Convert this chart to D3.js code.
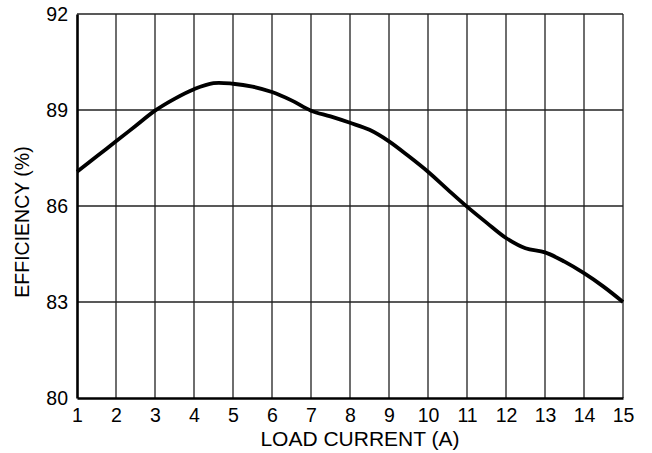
<!DOCTYPE html>
<html>
<head>
<meta charset="utf-8">
<script src="https://cdn.jsdelivr.net/npm/d3@7"></script>
<style>
  html, body { margin: 0; padding: 0; background: #fff; }
  svg { display: block; }
  text { font-family: "Liberation Sans", Arial, Helvetica, sans-serif; fill: #000; }
</style>
</head>
<body>
<svg id="chart" width="652" height="453"></svg>
<script>
// Data
const loadCurrent = [1, 1.5, 2, 2.5, 3, 3.5, 4, 4.5, 5, 5.5, 6, 6.5, 7, 7.5, 8, 8.5, 9, 9.5, 10, 10.5, 11, 11.5, 12, 12.5, 13, 13.5, 14, 14.5, 15];
const efficiency  = [87.07, 87.55, 88.02, 88.5, 88.98, 89.35, 89.65, 89.84, 89.82, 89.73, 89.56, 89.3, 88.98, 88.8, 88.6, 88.38, 88.02, 87.56, 87.07, 86.52, 85.98, 85.48, 85.0, 84.68, 84.55, 84.26, 83.9, 83.48, 83.0];
const xTicks = [1, 2, 3, 4, 5, 6, 7, 8, 9, 10, 11, 12, 13, 14, 15];
const yTicks = [80, 83, 86, 89, 92];
const xTitle = "LOAD CURRENT (A)";
const yTitle = "EFFICIENCY (%)";

const svg = d3.select("#chart");
const mLeft = 77, mRight = 623, mTop = 14, mBottom = 398;

const x = d3.scaleLinear().domain([1, 15]).range([mLeft, mRight]);
const y = d3.scaleLinear().domain([80, 92]).range([mBottom, mTop]);

// vertical grid lines
svg.append("g")
  .selectAll("line").data(xTicks.slice(1)).join("line")
  .attr("x1", d => x(d)).attr("x2", d => x(d))
  .attr("y1", mTop).attr("y2", mBottom)
  .attr("stroke", "#4a4a4a").attr("stroke-width", 1.6);

// horizontal grid lines
svg.append("g")
  .selectAll("line").data(yTicks.slice(1)).join("line")
  .attr("x1", mLeft).attr("x2", mRight)
  .attr("y1", d => y(d)).attr("y2", d => y(d))
  .attr("stroke", "#222").attr("stroke-width", 1.3);

// axes (thick left and bottom)
const xAxis = d3.axisBottom(x).tickValues(xTicks).tickSize(0).tickPadding(10).tickFormat(d3.format("d"));
const gx = svg.append("g").attr("transform", `translate(0,${mBottom})`).call(xAxis);
gx.select(".domain").attr("stroke", "#000").attr("stroke-width", 2.6);
gx.selectAll("text").attr("font-size", 19.5).attr("font-family", '"Liberation Sans", Arial, sans-serif');

const yAxis = d3.axisLeft(y).tickValues(yTicks).tickSize(0).tickPadding(9).tickFormat(d3.format("d"));
const gy = svg.append("g").attr("transform", `translate(${mLeft},0)`).call(yAxis);
gy.select(".domain").attr("stroke", "#000").attr("stroke-width", 2.6);
gy.selectAll("text").attr("font-size", 19.5).attr("font-family", '"Liberation Sans", Arial, sans-serif');

// curve
const line = d3.line()
  .x((d, i) => x(loadCurrent[i]))
  .y(d => y(d))
  .curve(d3.curveCatmullRom.alpha(0.5));
svg.append("path")
  .datum(efficiency)
  .attr("d", line)
  .attr("fill", "none")
  .attr("stroke", "#000")
  .attr("stroke-width", 3.8)
  .attr("stroke-linejoin", "round");

// titles
svg.append("text")
  .attr("x", 360).attr("y", 446)
  .attr("text-anchor", "middle").attr("font-size", 21)
  .text(xTitle);

svg.append("text")
  .attr("transform", `translate(29,${(mTop + mBottom) / 2 + 16}) rotate(-90)`)
  .attr("text-anchor", "middle").attr("font-size", 19.5)
  .text(yTitle);
</script>
</body>
</html>
